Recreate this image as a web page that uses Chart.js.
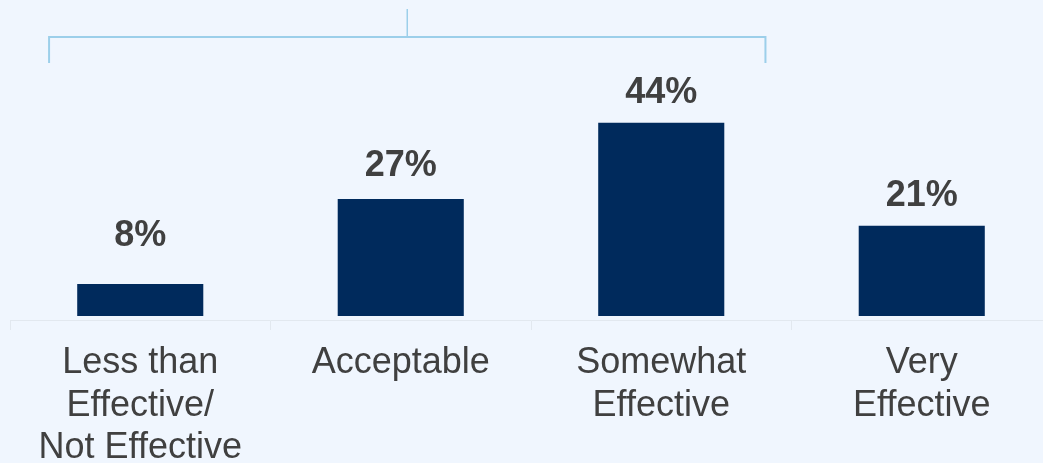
<!DOCTYPE html>
<html>
<head>
<meta charset="utf-8">
<script src="https://cdn.jsdelivr.net/npm/chart.js@4"></script>
<style>
  html, body { margin: 0; padding: 0; background: #F0F6FE; overflow: hidden; }
  #wrap { position: relative; width: 1062px; height: 463px; }
</style>
</head>
<body>
<div id="wrap"><canvas id="effChart"></canvas></div>
<script>
// Effectiveness ratings
const categories = [
  ['Less than', 'Effective/', 'Not Effective'],
  ['Acceptable'],
  ['Somewhat', 'Effective'],
  ['Very', 'Effective']
];
const percentValues = [8, 27, 44, 21];
const valueLabels = ['8%', '27%', '44%', '21%'];

const FONT = '"Liberation Sans", Arial, Helvetica, sans-serif';
const TEXT_COLOR = '#404040';

// Value labels above bars
const valueLabelPlugin = {
  id: 'valueLabels',
  afterDatasetsDraw(chart) {
    const { ctx } = chart;
    const lift = [38, 23, 20, 20];
    const bars = chart.getDatasetMeta(0).data;
    ctx.save();
    ctx.font = 'bold 36px ' + FONT;
    ctx.fillStyle = TEXT_COLOR;
    ctx.textAlign = 'center';
    ctx.textBaseline = 'alphabetic';
    bars.forEach((bar, i) => {
      ctx.fillText(valueLabels[i], bar.x, bar.y - lift[i]);
    });
    ctx.restore();
  }
};

// Bracket over the first three categories
const bracketPlugin = {
  id: 'bracket',
  afterDraw(chart) {
    const { ctx } = chart;
    const x = chart.scales.x;
    const w = x.getPixelForValue(1) - x.getPixelForValue(0);
    const left = x.getPixelForValue(0) - 0.35 * w;
    const right = x.getPixelForValue(2) + 0.40 * w;
    const mid = (left + right) / 2;
    ctx.save();
    ctx.strokeStyle = '#9CCFEA';
    ctx.lineWidth = 2;
    ctx.beginPath();
    ctx.moveTo(left, 63);
    ctx.lineTo(left, 37);
    ctx.lineTo(right, 37);
    ctx.lineTo(right, 63);
    ctx.stroke();
    ctx.lineWidth = 1.5;
    ctx.beginPath();
    ctx.moveTo(mid, 37);
    ctx.lineTo(mid, 9);
    ctx.stroke();
    ctx.restore();
  }
};

const ctx = document.getElementById('effChart').getContext('2d');
const chart = new Chart(ctx, {
  type: 'bar',
  data: {
    labels: categories,
    datasets: [{
      data: percentValues,
      backgroundColor: '#002A5C',
      borderWidth: 0,
      base: 0.9,
      categoryPercentage: 1,
      barPercentage: 0.484
    }]
  },
  options: {
    responsive: true,
    maintainAspectRatio: false,
    animation: false,
    layout: { padding: { top: 6, left: 10, right: 10, bottom: 0 } },
    plugins: {
      legend: { display: false },
      tooltip: { enabled: false }
    },
    scales: {
      y: {
        display: false,
        min: 0,
        max: 70
      },
      x: {
        afterFit(axis) { axis.height = 143; },
        grid: {
          offset: true,
          drawOnChartArea: false,
          drawTicks: true,
          tickLength: 10,
          color: '#E2E8EF'
        },
        border: { display: true, color: '#E2E8EF', width: 1 },
        ticks: {
          color: TEXT_COLOR,
          padding: 12,
          maxRotation: 0,
          autoSkip: false,
          font: { family: FONT, size: 36, lineHeight: 1.18 }
        }
      }
    }
  },
  plugins: [valueLabelPlugin, bracketPlugin]
});
</script>
</body>
</html>
